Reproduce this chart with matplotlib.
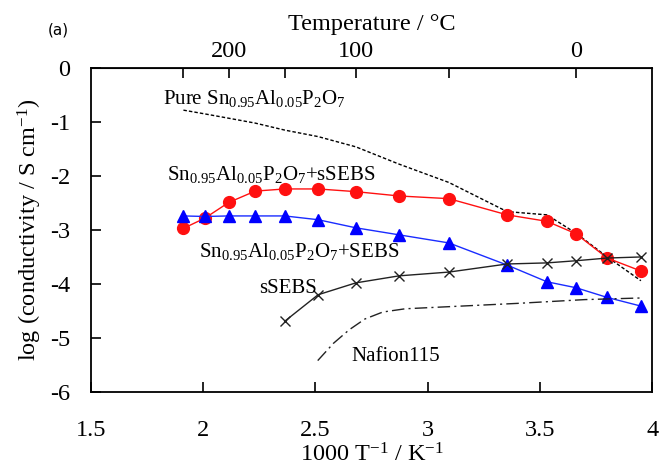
import numpy as np
import matplotlib
matplotlib.use("Agg")
import matplotlib.pyplot as plt

plt.rcParams['font.family'] = ['Liberation Serif', 'DejaVu Serif']
plt.rcParams['mathtext.fontset'] = 'custom'
plt.rcParams['mathtext.rm'] = 'Liberation Serif'
plt.rcParams['mathtext.it'] = 'Liberation Serif:italic'
plt.rcParams['mathtext.default'] = 'rm'
plt.rcParams['axes.unicode_minus'] = False

# measurement temperatures (deg C)
temps = [250, 225, 200, 175, 150, 125, 100, 75, 50, 25, 10, 0, -10, -20]

# log(conductivity / S cm-1)
pure_sap = [-0.78, -0.85, -0.93, -1.02, -1.15, -1.27, -1.46, -1.78, -2.12,
            -2.66, -2.72, -3.06, -3.50, -3.94]
sap_ssebs = [-2.97, -2.78, -2.49, -2.28, -2.24, -2.24, -2.29, -2.37, -2.42,
             -2.72, -2.84, -3.07, -3.52, -3.76]
sap_sebs = [-2.74, -2.75, -2.74, -2.74, -2.74, -2.81, -2.96, -3.09, -3.24,
            -3.65, -3.96, -4.07, -4.25, -4.41]
ssebs_temps = [150, 125, 100, 75, 50, 25, 10, 0, -10, -20]
ssebs = [-4.69, -4.20, -3.98, -3.85, -3.78, -3.63, -3.61, -3.57, -3.52, -3.50]

# Nafion115 curve, read along 1000/T
nafion_x = [2.51, 2.58, 2.65, 2.72, 2.80, 2.90, 3.10, 3.40, 3.70, 3.95]
nafion_y = [-5.42, -5.10, -4.85, -4.65, -4.52, -4.46, -4.42, -4.36, -4.29, -4.26]


def inv_t(t):
    return 1000.0 / (np.asarray(t, dtype=float) + 273.15)


def to_celsius(x):
    x = np.asarray(x, dtype=float)
    with np.errstate(divide='ignore'):
        return 1000.0 / x - 273.15


x_all = inv_t(temps)
x_ssebs = inv_t(ssebs_temps)

fig = plt.figure(figsize=(6.6, 4.66), dpi=100)
ax = fig.add_axes([0.138, 0.159, 0.850, 0.695])

ax.plot(x_all, pure_sap, color='k', lw=1.0, ls=(0, (2.5, 1.5)))
ax.plot(x_all, sap_ssebs, color='#ff1010', lw=1.0, marker='o', ms=8.5,
        mec='#ff1010', mfc='#ff1010')
ax.plot(x_all, sap_sebs, color='#1a2cff', lw=1.0, marker='^', ms=8.5,
        mec='#0000ff', mfc='#0000ff')
ax.plot(x_ssebs, ssebs, color='#222222', lw=1.0, marker='x', ms=7,
        mew=1.0)
ax.plot(nafion_x, nafion_y, color='#222222', lw=1.0,
        ls=(0, (9, 3, 1.5, 3)))

fs = 15
sub = 'Sn$_{0.95}$Al$_{0.05}$P$_2$O$_7$'
ax.text(1.82, -0.57, 'Pure ' + sub, fontsize=fs, va='center', ha='left')
ax.text(1.84, -1.98, sub + '+sSEBS', fontsize=fs, va='center', ha='left')
ax.text(1.98, -3.40, sub + '+SEBS', fontsize=fs, va='center', ha='left')
ax.text(2.25, -4.08, 'sSEBS', fontsize=fs, va='center', ha='left')
ax.text(2.66, -5.34, 'Nafion115', fontsize=fs, va='center', ha='left')

ax.set_xlim(1.5, 4.0)
ax.set_ylim(-6, 0)
ax.set_xticks([1.5, 2, 2.5, 3, 3.5, 4])
ax.set_xticklabels(['1.5', '2', '2.5', '3', '3.5', '4'])
ax.set_yticks([-6, -5, -4, -3, -2, -1, 0])
ax.tick_params(axis='both', direction='in', labelsize=17.5, length=7,
               width=1.2)
ax.tick_params(axis='x', pad=20)
ax.tick_params(axis='y', pad=15)
for sp in ax.spines.values():
    sp.set_linewidth(1.3)

ax.set_xlabel('1000 T$^{-1}$ / K$^{-1}$', fontsize=17.5, labelpad=2)
ax.set_ylabel('log (conductivity / S cm$^{-1}$)', fontsize=17.5, labelpad=4)

top = ax.secondary_xaxis('top', functions=(to_celsius, inv_t))
top.set_xticks([250, 200, 150, 100, 50, 0])
top.set_xticklabels(['', '200', '', '100', '', '0'])
top.tick_params(direction='in', labelsize=17.5, length=7, width=1.2, pad=4)
top.set_xlabel('Temperature / \u00b0C', fontsize=17.5, labelpad=8)

fig.text(0.073, 0.936, '(a)', fontsize=11, family='DejaVu Sans',
         ha='left', va='center')

fig.savefig('out.png', dpi=100)
